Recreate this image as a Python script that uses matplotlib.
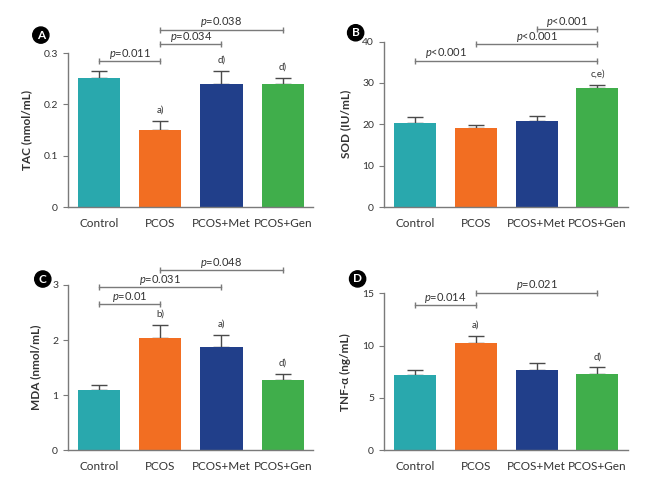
import matplotlib.pyplot as plt
import numpy as np

plt.rcParams["font.family"] = ["Lato", "DejaVu Sans"]
plt.rcParams["mathtext.fontset"] = "custom"
plt.rcParams["mathtext.it"] = "Lato:italic"
plt.rcParams["mathtext.rm"] = "Lato"

groups = ["Control", "PCOS", "PCOS+Met", "PCOS+Gen"]
colors = ["#29a8ad", "#f26e22", "#213f8a", "#40ae4b"]

# Panel A: TAC
tac_mean = [0.251, 0.151, 0.239, 0.239]
tac_err = [0.015, 0.017, 0.026, 0.013]
tac_marks = ["", "a)", "d)", "d)"]
tac_brackets = [(0, 1, 0.285, "0.011"), (1, 2, 0.317, "0.034"), (1, 3, 0.346, "0.038")]

# Panel B: SOD
sod_mean = [20.4, 19.1, 20.9, 28.9]
sod_err = [1.4, 0.8, 1.2, 0.6]
sod_marks = ["", "", "", "c,e)"]
sod_brackets = [(0, 3, 35.4, "<0.001"), (1, 3, 39.3, "<0.001"), (2, 3, 43.0, "<0.001")]

# Panel C: MDA
mda_mean = [1.09, 2.03, 1.87, 1.28]
mda_err = [0.09, 0.24, 0.23, 0.11]
mda_marks = ["", "b)", "a)", "d)"]
mda_brackets = [(0, 1, 2.65, "0.01"), (0, 2, 2.96, "0.031"), (1, 3, 3.27, "0.048")]

# Panel D: TNF-a
tnf_mean = [7.2, 10.2, 7.7, 7.25]
tnf_err = [0.5, 0.7, 0.65, 0.65]
tnf_marks = ["", "a)", "", "d)"]
tnf_brackets = [(0, 1, 13.9, "0.014"), (1, 3, 15.05, "0.021")]

AX_COLOR = "#7a7a7a"
TXT_COLOR = "#333333"


def draw_panel(ax, mean, err, marks, brackets, ymax, yticks, yticklabels, ylabel, letter,
               letter_pos, label_x=None):
    x = np.arange(len(groups))
    ax.bar(x, mean, width=0.69, color=colors, zorder=2)
    ax.errorbar(x, mean, yerr=[np.zeros(len(mean)), err], fmt="none", ecolor="#4a4a4a",
                elinewidth=1.0, capsize=5.5, capthick=1.0, zorder=1)

    # significance letters above error bars
    for xi, m, e, s in zip(x, mean, err, marks):
        if s:
            ax.annotate(s, (xi, m + e), xytext=(0, 6), textcoords="offset points",
                        ha="center", va="baseline", fontsize=7, color=TXT_COLOR)

    # p-value brackets
    for i, (x0, x1, yb, p) in enumerate(brackets):
        ax.plot([x0, x1], [yb, yb], color=AX_COLOR, lw=1.0, clip_on=False)
        ax.plot([x0, x1], [yb, yb], ls="none", marker="|", ms=5, mew=1.0,
                color=AX_COLOR, clip_on=False)
        tx = (x0 + x1) / 2
        if label_x is not None and label_x[i] is not None:
            tx = label_x[i]
        sign = "" if p[0] == "<" else "="
        ax.annotate(r"$p$" + sign + p, (tx, yb), xytext=(0, 3), textcoords="offset points",
                    ha="center", va="baseline", fontsize=8, color=TXT_COLOR,
                    annotation_clip=False)

    ax.set_xlim(-0.51, 3.5)
    ax.set_ylim(0, ymax)
    ax.set_yticks(yticks)
    ax.set_yticklabels(yticklabels)
    ax.set_xticks(x)
    ax.set_xticklabels(groups)
    ax.set_ylabel(ylabel, fontsize=8.5, fontweight="bold", color=TXT_COLOR, labelpad=8)
    for side in ["top", "right"]:
        ax.spines[side].set_visible(False)
    for side in ["left", "bottom"]:
        ax.spines[side].set_color(AX_COLOR)
        ax.spines[side].set_linewidth(1.0)
    ax.tick_params(axis="y", length=3.5, color=AX_COLOR, labelsize=7.5, labelcolor=TXT_COLOR)
    ax.tick_params(axis="x", length=0, labelsize=8.5, labelcolor=TXT_COLOR, pad=8)

    ax.text(letter_pos[0], letter_pos[1], letter, transform=ax.transAxes,
            ha="center", va="center", fontsize=8.5, fontweight="bold", color="white",
            bbox=dict(boxstyle="circle,pad=0.22", fc="black", ec="black"))


fig = plt.figure(figsize=(6.46, 4.83), dpi=100)

ax_a = fig.add_axes([0.105, 0.571, 0.380, 0.319])
ax_b = fig.add_axes([0.594, 0.571, 0.378, 0.343])
ax_c = fig.add_axes([0.105, 0.068, 0.380, 0.342])
ax_d = fig.add_axes([0.594, 0.068, 0.378, 0.325])

draw_panel(ax_a, tac_mean, tac_err, tac_marks, tac_brackets, 0.3,
           [0, 0.1, 0.2, 0.3], ["0", "0.1", "0.2", "0.3"], "TAC (nmol/mL)", "A",
           (-0.11, 1.117))
draw_panel(ax_b, sod_mean, sod_err, sod_marks, sod_brackets, 40,
           [0, 10, 20, 30, 40], ["0", "10", "20", "30", "40"], "SOD (IU/mL)", "B",
           (-0.115, 1.053), label_x=[0.52, None, None])
draw_panel(ax_c, mda_mean, mda_err, mda_marks, mda_brackets, 3,
           [0, 1, 2, 3], ["0", "1", "2", "3"], "MDA (nmol/mL)", "C",
           (-0.102, 1.036))
draw_panel(ax_d, tnf_mean, tnf_err, tnf_marks, tnf_brackets, 15,
           [0, 5, 10, 15], ["0", "5", "10", "15"], "TNF-α (ng/mL)", "D",
           (-0.107, 1.091))

fig.savefig("out.png", dpi=100)
